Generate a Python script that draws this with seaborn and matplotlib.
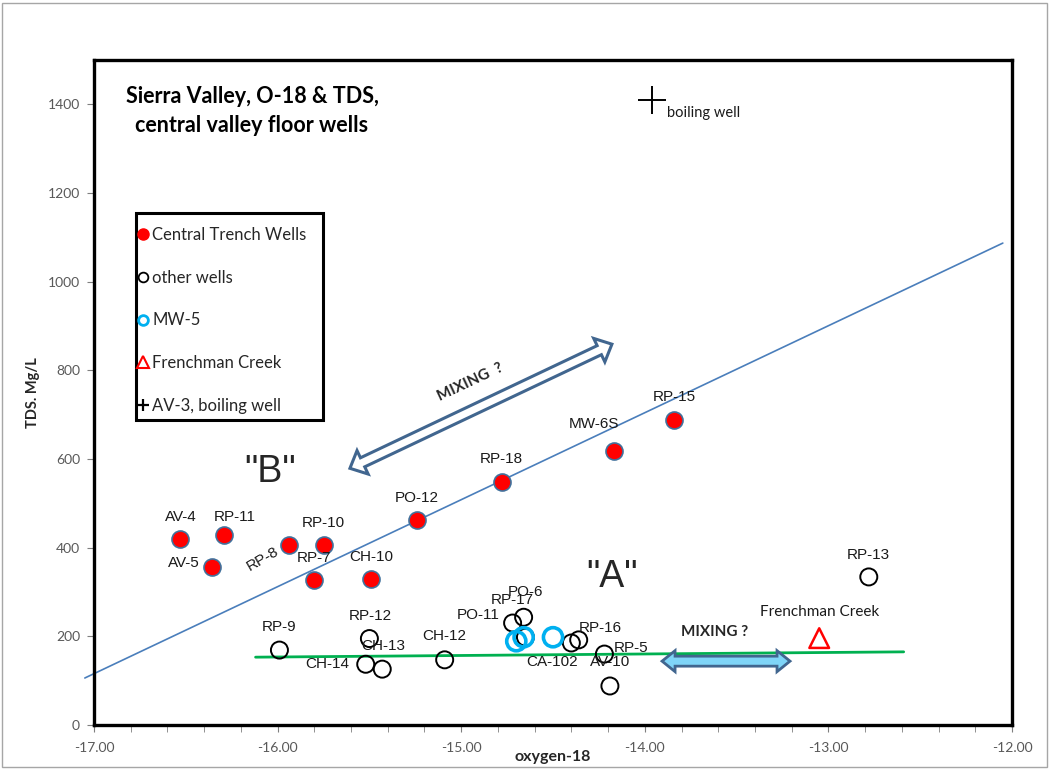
import numpy as np
import pandas as pd
import matplotlib
matplotlib.use("Agg")
import matplotlib.pyplot as plt
import seaborn as sns
from matplotlib.patches import Polygon, Rectangle
from matplotlib.lines import Line2D
from matplotlib.transforms import IdentityTransform
from matplotlib.ticker import MultipleLocator, FormatStrFormatter

# ---- data -------------------------------------------------------------
ct_names = ["AV-4", "RP-11", "AV-5", "RP-8", "RP-10", "RP-7", "CH-10",
            "PO-12", "RP-18", "MW-6S", "RP-15"]
ct_o18 = [-16.53, -16.29, -16.36, -15.94, -15.75, -15.80, -15.49,
          -15.24, -14.78, -14.17, -13.84]
ct_tds = [419, 428, 356, 406, 406, 327, 329, 462, 548, 618, 688]

ow_names = ["RP-9", "RP-12", "CH-14", "CH-13", "CH-12", "RP-17", "PO-6",
            "PO-11", "CA-102", "RP-16", "RP-5", "AV-10", "RP-13"]
ow_o18 = [-15.99, -15.50, -15.52, -15.43, -15.09, -14.72, -14.66,
          -14.65, -14.40, -14.36, -14.22, -14.19, -12.78]
ow_tds = [169, 195, 137, 126, 147, 230, 243, 198, 185, 192, 160, 88, 334]

mw5_o18 = [-14.70, -14.66, -14.50]
mw5_tds = [189, 198, 198]

creek_o18 = [-13.05]
creek_tds = [196]

boil_o18 = [-13.96]
boil_tds = [1409]

# trend lines
trend_o18 = [-17.05, -12.05]
trend_tds = [106, 1087]
base_o18 = [-16.12, -12.59]
base_tds = [153, 165]

# label offsets (pixels) for the well names
ct_off = {"AV-4": (1, 22), "RP-11": (10, 18), "AV-5": (-28, 4),
          "RP-8": (-26, -14), "RP-10": (0, 22), "RP-7": (0, 22),
          "CH-10": (0, 22), "PO-12": (0, 22), "RP-18": (0, 23),
          "MW-6S": (-20, 27), "RP-15": (0, 23)}
ow_off = {"RP-9": (0, 23), "RP-12": (1, 23), "CH-14": (-38, 0),
          "CH-13": (1, 23), "CH-12": (0, 24), "RP-17": (0, 23),
          "PO-6": (2, 25), "PO-11": (-47, 22), "CA-102": (-19, -19),
          "RP-16": (22, 12), "RP-5": (27, 6), "AV-10": (0, 24),
          "RP-13": (0, 22)}

ct = pd.DataFrame({"o18": ct_o18, "tds": ct_tds, "name": ct_names})
ow = pd.DataFrame({"o18": ow_o18, "tds": ow_tds, "name": ow_names})

# ---- figure -----------------------------------------------------------
sns.set_style("white")
plt.rcParams["font.family"] = ["Lato", "DejaVu Sans"]

W, H = 1049, 769
fig = plt.figure(figsize=(W / 100, H / 100), dpi=100)
fig.patches.append(Rectangle((2 / W, 2 / H), (W - 4) / W, (H - 5) / H,
                             transform=fig.transFigure, fill=False,
                             ec="#a6a6a6", lw=1))
ax = fig.add_axes([94 / W, 1 - 725 / H, 918 / W, 665 / H])

ax.set_xlim(-17, -12)
ax.set_ylim(0, 1500)

sns.lineplot(x=trend_o18, y=trend_tds, ax=ax, color="#4a7ebb", lw=1.2,
             zorder=2, clip_on=False)
sns.lineplot(x=base_o18, y=base_tds, ax=ax, color="#00b050", lw=2, zorder=2)

sns.scatterplot(data=ow, x="o18", y="tds", ax=ax, marker="o", s=150,
                facecolor="none", edgecolor="black", linewidth=1.4, zorder=3)
sns.scatterplot(x=mw5_o18, y=mw5_tds, ax=ax, marker="o", s=190,
                facecolor="none", edgecolor="#00b0f0", linewidth=2.6, zorder=4)
sns.scatterplot(data=ct, x="o18", y="tds", ax=ax, marker="o", s=150,
                color="#ff0000", edgecolor="#41719c", linewidth=1.2, zorder=5)
sns.scatterplot(x=creek_o18, y=creek_tds, ax=ax, marker="^", s=200,
                facecolor="none", edgecolor="#ff0000", linewidth=1.8, zorder=4)
sns.scatterplot(x=boil_o18, y=boil_tds, ax=ax, marker="+", s=420,
                color="black", edgecolor="black", linewidth=1.4, zorder=4)

label_font = dict(family=["Liberation Sans", "DejaVu Sans"], fontsize=11,
                  color="#1a1a1a")
for df, off in ((ct, ct_off), (ow, ow_off)):
    for _, r in df.iterrows():
        dx, dy = off[r["name"]]
        rot = 30 if r["name"] == "RP-8" else 0
        ax.annotate(r["name"], (r["o18"], r["tds"]), xytext=(dx, dy),
                    textcoords="offset pixels", ha="center", va="center",
                    rotation=rot, zorder=6, **label_font)

ax.annotate("Frenchman Creek", (creek_o18[0], creek_tds[0]), xytext=(0, 26),
            textcoords="offset pixels", ha="center", va="center",
            fontsize=11, color="#1a1a1a")
ax.annotate("boiling well", (boil_o18[0], boil_tds[0]), xytext=(15, -13),
            textcoords="offset pixels", ha="left", va="center",
            fontsize=10.5, color="#1a1a1a")

ax.text(-16.04, 570, '"B"', ha="center", va="center", fontsize=27,
        family=["Liberation Sans", "DejaVu Sans"])
ax.text(-14.18, 334, '"A"', ha="center", va="center", fontsize=27,
        family=["Liberation Sans", "DejaVu Sans"])


def block_arrow(p0, p1, body_w, head_w, head_l, fc, ec, lw):
    """Double-headed block arrow between two data points (sizes in px)."""
    a = ax.transData.transform(p0)
    b = ax.transData.transform(p1)
    d = b - a
    u = d / np.hypot(*d)
    n = np.array([-u[1], u[0]])
    hb, hh = body_w / 2, head_w / 2
    pts = [a, a + u * head_l + n * hh, a + u * head_l + n * hb,
           b - u * head_l + n * hb, b - u * head_l + n * hh, b,
           b - u * head_l - n * hh, b - u * head_l - n * hb,
           a + u * head_l - n * hb, a + u * head_l - n * hh]
    ax.add_patch(Polygon(pts, closed=True, transform=IdentityTransform(),
                         fc=fc, ec=ec, lw=lw, joinstyle="miter", zorder=6))


block_arrow((-15.606, 579), (-14.179, 859), 10, 26, 14, "white", "#41668f", 2.2)
block_arrow((-13.906, 144), (-13.209, 144), 10, 21, 13, "#7fd5f8", "#41668f", 2.0)

ax.text(-14.95, 773, "MIXING  ?", rotation=25.3, ha="center", va="center",
        fontsize=11, fontweight="bold", color="#262626")
ax.text(-13.62, 210, "MIXING ?", ha="center", va="center",
        fontsize=11, fontweight="bold", color="#262626")

# title
fig.text(252 / W, 1 - 111 / H, "Sierra Valley, O-18 & TDS,\ncentral valley floor wells",
         ha="center", va="center", fontsize=15.5, fontweight="bold",
         linespacing=1.5, color="black")

# legend: entries without frame, box drawn separately
handles = [
    Line2D([], [], ls="", marker="o", ms=8, mfc="#ff0000", mec="#ff0000"),
    Line2D([], [], ls="", marker="o", ms=7, mfc="none", mec="black", mew=1.3),
    Line2D([], [], ls="", marker="o", ms=7, mfc="none", mec="#00b0f0", mew=2),
    Line2D([], [], ls="", marker="^", ms=8, mfc="none", mec="#ff0000", mew=1.5),
    Line2D([], [], ls="", marker="+", ms=9, mec="black", mew=1.6),
]
leg_labels = ["Central Trench Wells", "other wells", "MW-5",
              "Frenchman Creek", "AV-3, boiling well"]
leg = ax.legend(handles, leg_labels, loc="upper left",
                bbox_to_anchor=((138 - 94) / 918, (725 - 227) / 665),
                frameon=False, fontsize=12,
                handlelength=0.6, handletextpad=0.25, labelspacing=1.6,
                borderpad=0, borderaxespad=0)
leg.set_zorder(8)
ax.add_patch(Rectangle((136 / W, 1 - 420 / H), 187 / W, 207 / H,
                       transform=fig.transFigure, fill=True, fc="white",
                       ec="black", lw=2.2, zorder=7, clip_on=False))

# axes cosmetics
ax.xaxis.set_major_locator(MultipleLocator(1))
ax.xaxis.set_minor_locator(MultipleLocator(0.2))
ax.xaxis.set_major_formatter(FormatStrFormatter("%.2f"))
ax.set_yticks(np.arange(0, 1401, 200))
ax.tick_params(axis="both", which="both", direction="out", color="#7f7f7f",
               labelcolor="#595959", labelsize=10, bottom=True, left=True)
ax.tick_params(axis="x", which="both", length=5, pad=7)
ax.tick_params(axis="y", which="major", length=5, pad=5)
for s in ax.spines.values():
    s.set_color("black")
    s.set_linewidth(2.4)

ax.set_xlabel("oxygen-18", fontsize=11.5, fontweight="bold")
ax.xaxis.set_label_coords(0.5, -(757 - 725) / 665)
ax.xaxis.label.set_verticalalignment("center")
ax.set_ylabel("TDS. Mg/L", fontsize=10.5, fontweight="bold")
ax.yaxis.set_label_coords((33 - 94) / 918, 0.5)
ax.yaxis.label.set_verticalalignment("center")

fig.savefig("out.png", dpi=100)
